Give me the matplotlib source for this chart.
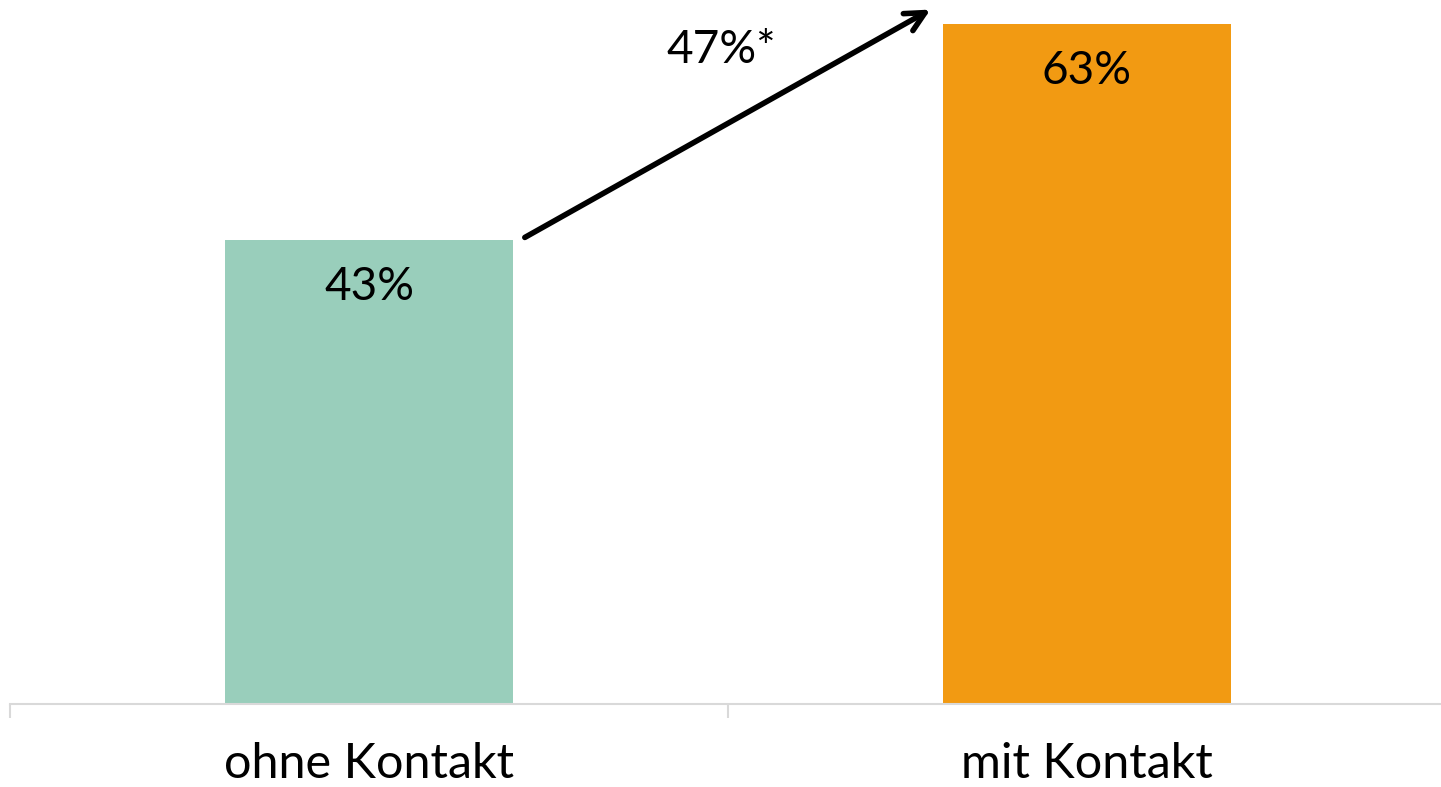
import matplotlib.pyplot as plt
import numpy as np

# Daten
kategorien = ['ohne Kontakt', 'mit Kontakt']
werte = [43, 63]
farben = ['#99CEBB', '#F29A12']
zuwachs_label = '47%*'

plt.rcParams['font.family'] = ['Lato', 'DejaVu Sans']

fig = plt.figure(figsize=(14.41, 7.87), dpi=100)
W, H = 1441, 787
# Achse etwas über den rechten Rand hinaus, wie im Original
ax = fig.add_axes([10 / W, 83 / H, 1436 / W, 702 / H])

x = np.arange(len(kategorien))
bars = ax.bar(x, werte, width=0.4, color=farben, zorder=2)

ax.set_xlim(-0.5, 1.5)
ax.set_ylim(0, 65)

# Werte in die Balken schreiben
for xi, v in zip(x, werte):
    ax.annotate(f'{v}%', xy=(xi, v), xytext=(0, -34), textcoords='offset points',
                ha='center', va='center', fontsize=33, color='black')

# Pfeil von Balken 1 zu Balken 2
x0 = x[0] + 0.2 + 0.017
x1 = x[1] - 0.2 - 0.018
ax.annotate('', xy=(x1, werte[1] + 1.3), xytext=(x0, werte[0] + 0.2),
            arrowprops=dict(arrowstyle='->', lw=4, color='black',
                            mutation_scale=35, shrinkA=0, shrinkB=0),
            annotation_clip=False)
ax.text(0.49, 60.6, zuwachs_label, ha='center', va='center', fontsize=33)

# Achsen
for s in ['top', 'right', 'left']:
    ax.spines[s].set_visible(False)
ax.spines['bottom'].set_color('#D9D9D9')
ax.spines['bottom'].set_linewidth(1.5)
ax.set_yticks([])
ax.set_xticks([-0.5, 0.5, 1.5], minor=False)
ax.set_xticklabels([])
ax.tick_params(axis='x', which='major', length=10, width=1.5, color='#D9D9D9')
ax.set_xticks(x, minor=True)
ax.set_xticklabels(kategorien, minor=True, fontsize=35)
ax.tick_params(axis='x', which='minor', length=0, pad=27)

fig.savefig('out.png', dpi=100, facecolor='white')
